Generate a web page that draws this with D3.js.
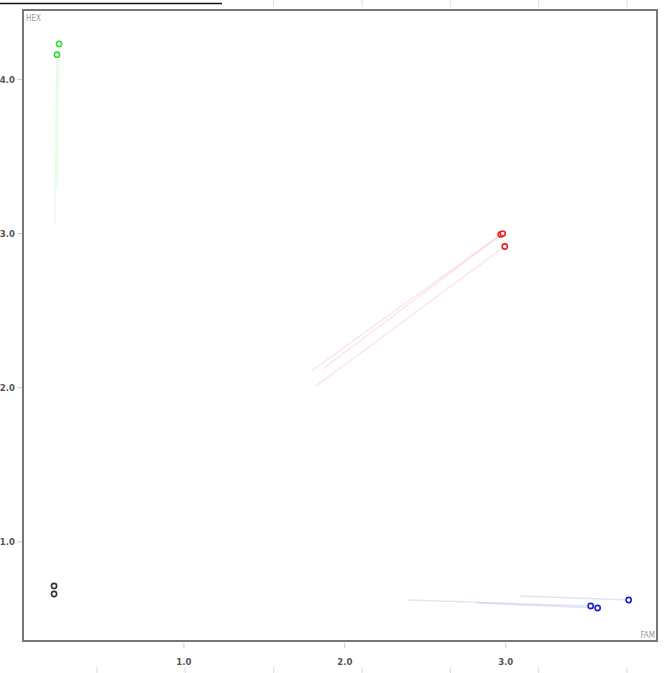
<!DOCTYPE html>
<html lang="en">
<head>
    <meta charset="UTF-8">
    <title>FAM vs HEX</title>
    <script src="https://d3js.org/d3.v7.min.js"></script>
    <style>
        body { margin: 0; background: #fff; }
        svg { display: block; font-family: "DejaVu Sans Condensed", "DejaVu Sans", Verdana, sans-serif; }
        .frame { fill: none; stroke: #777; stroke-width: 2px; }
        .tick-label { fill: #555; font-size: 9.5px; font-weight: bold; }
        .axis-title { fill: #999; font-size: 8px; }
        .trail { fill: none; stroke-width: 1.3px; stroke-opacity: 0.13; }
        .dot { fill: #fff; stroke-width: 1.6px; }
</style>
</head>
<body>
    <div id="container"></div>
    <script>
const width = 666, height = 673;

// current positions (FAM, HEX)
const colors = ["#33dd33", "#ee2222", "#2222cc", "#333333"];
const famNow = [
    [0.224, 0.211],
    [2.969, 2.981, 2.994],
    [3.764, 3.528, 3.571],
    [0.193, 0.193]
];
const hexNow = [
    [4.23, 4.16],
    [2.994, 3.0, 2.916],
    [0.623, 0.584, 0.571],
    [0.714, 0.662]
];
// where each trail starts
const famFrom = [
    [0.212, 0.199],
    [1.795, 1.863, 1.814],
    [3.087, 2.391, 2.820],
    [0.193, 0.193]
];
const hexFrom = [
    [3.30, 3.06],
    [2.110, 2.123, 2.006],
    [0.649, 0.623, 0.604],
    [0.714, 0.662]
];
const tickValues = [1.0, 2.0, 3.0, 4.0];
const ghostTicks = [0, 1, 2, 3, 4, 5, 6];

const svg = d3.select("#container").append("svg")
    .attr("width", width)
    .attr("height", height);

const x = d3.scaleLinear().domain([0, 3.94]).range([23, 657]);
const y = d3.scaleLinear().domain([0.357, 4.45]).range([641, 10]);

// leftover bits of the page around the chart
svg.append("line")
    .attr("x1", 0).attr("x2", 222).attr("y1", 3.5).attr("y2", 3.5)
    .attr("stroke", "#111").attr("stroke-width", 1.5);
const g = d3.scaleLinear().domain([0, 6]).range([97, 627]);
svg.selectAll(".ghost-b").data(ghostTicks).enter().append("line")
    .attr("x1", d => g(d)).attr("x2", d => g(d))
    .attr("y1", 667).attr("y2", 673)
    .attr("stroke", "#ddd");
svg.selectAll(".ghost-t").data(ghostTicks.slice(2)).enter().append("line")
    .attr("x1", d => g(d)).attr("x2", d => g(d))
    .attr("y1", 0).attr("y2", 7)
    .attr("stroke", "#ddd");

// frame
svg.append("rect").attr("class", "frame")
    .attr("x", x.range()[0]).attr("y", y.range()[1])
    .attr("width", x.range()[1] - x.range()[0])
    .attr("height", y.range()[0] - y.range()[1]);

// y ticks
svg.selectAll(".yt").data(tickValues).enter().append("line")
    .attr("x1", 17).attr("x2", 22)
    .attr("y1", d => y(d)).attr("y2", d => y(d))
    .attr("stroke", "#ccc");
svg.selectAll(".yl").data(tickValues).enter().append("text")
    .attr("class", "tick-label")
    .attr("x", 15).attr("y", d => y(d) + 3.5)
    .attr("text-anchor", "end")
    .text(d => d.toFixed(1));

// x ticks
const xTicks = tickValues.filter(d => d < 3.9);
svg.selectAll(".xt").data(xTicks).enter().append("line")
    .attr("x1", d => x(d)).attr("x2", d => x(d))
    .attr("y1", 643).attr("y2", 648)
    .attr("stroke", "#ccc");
svg.selectAll(".xl").data(xTicks).enter().append("text")
    .attr("class", "tick-label")
    .attr("x", d => x(d)).attr("y", 665)
    .attr("text-anchor", "middle")
    .text(d => d.toFixed(1));

svg.append("text").attr("class", "axis-title")
    .attr("x", 26).attr("y", 21).text("HEX");
svg.append("text").attr("class", "axis-title")
    .attr("x", 655).attr("y", 638).attr("text-anchor", "end").text("FAM");

// trails then dots
colors.forEach((c, i) => {
    const idx = d3.range(famNow[i].length);
    svg.selectAll(null).data(idx).enter().append("line")
        .attr("class", "trail")
        .attr("stroke", c)
        .attr("x1", j => x(famFrom[i][j])).attr("y1", j => y(hexFrom[i][j]))
        .attr("x2", j => x(famNow[i][j])).attr("y2", j => y(hexNow[i][j]));
    svg.selectAll(null).data(idx).enter().append("circle")
        .attr("class", "dot")
        .attr("stroke", c)
        .attr("r", 2.6)
        .attr("cx", j => x(famNow[i][j]))
        .attr("cy", j => y(hexNow[i][j]));
});
</script>
</body>
</html>
